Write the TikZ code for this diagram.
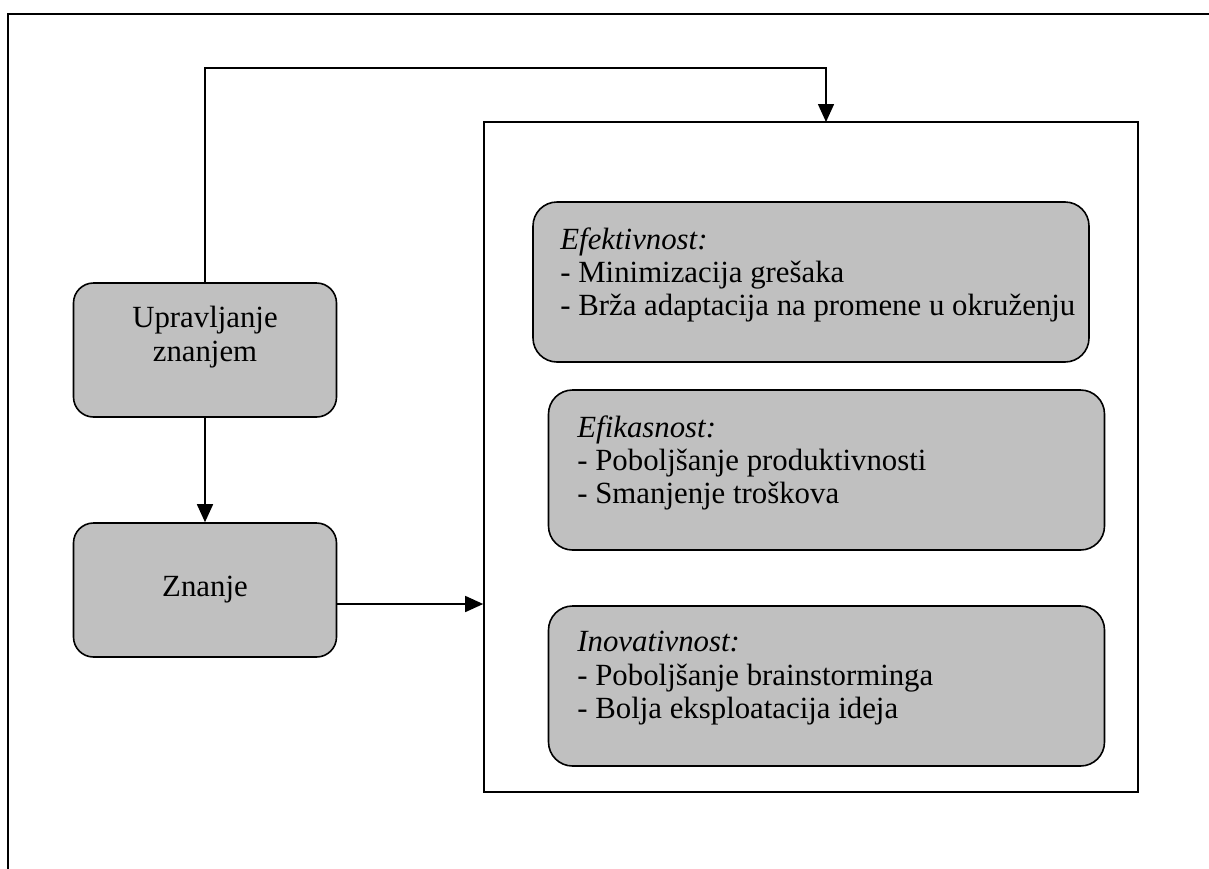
\documentclass[tikz,border=0pt]{standalone}
\usepackage{fontspec}
\setmainfont{Liberation Serif}
\usepackage{xcolor}
\usepackage{tikz}
\usetikzlibrary{arrows.meta,positioning}
\definecolor{boxgray}{RGB}{192,192,192}

\begin{document}
\begin{tikzpicture}[
    x=0.5pt, y=-0.5pt,
    box/.style={rectangle, draw, thick, rounded corners=10pt, fill=boxgray, minimum width=131.5pt, minimum height=67pt, align=center, font=\fontsize{15.4}{16.8}\selectfont},
    goal/.style={rectangle, draw, thick, rounded corners=12pt, fill=boxgray, minimum width=278pt, minimum height=80pt},
    goaltext/.style={anchor=north west, inner sep=0pt, align=left, font=\fontsize{15.4}{16.6}\selectfont},
    arrow/.style={-{Triangle[length=9pt, width=8pt]}, thick}
]
\useasboundingbox (0,0) rectangle (1209,868);
\clip (0,0) rectangle (1209,868);

% Outer frame (cut off at right and bottom)
\draw[line width=1.4pt] (8,890) -- (8,14) -- (1230,14);

% Left column
\node[box] (upr) at (205,350) {};
\node[goaltext, anchor=north, align=center, font=\fontsize{15.4}{16.8}\selectfont] (uprtxt) at (205,306) {Upravljanje\\znanjem};
\node[box] (znanje) at (205,590) {Znanje};

% Outcome frame with its three boxes
\node[rectangle, draw, thick, minimum width=327pt, minimum height=335pt] (ishod) at (811,457) {};
\node[goal] (efekt) at (811,282) {};
\node[goaltext] (efekttxt) at (560,227) {\textit{Efektivnost:}\\- Minimizacija grešaka\\- Brža adaptacija na promene u okruženju};
\node[goal] (efik) at (826.5,470) {};
\node[goaltext] (efiktxt) at (577,415) {\textit{Efikasnost:}\\- Poboljšanje produktivnosti\\- Smanjenje troškova};
\node[goal] (inov) at (826.5,686) {};
\node[goaltext] (inovtxt) at (577,631) {\textit{Inovativnost:}\\- Poboljšanje brainstorminga\\- Bolja eksploatacija ideja};

% Connectors
\coordinate (bend) at (826,68);
\coordinate (entry) at (826,122);
\draw[arrow] (upr.north) |- (bend) -- (entry);
\draw[arrow] (upr.south) -- (znanje.north);
\draw[arrow] ([yshift=-7pt]znanje.east) -- ([yshift=-7pt]znanje.east -| ishod.west);
\end{tikzpicture}
\end{document}
